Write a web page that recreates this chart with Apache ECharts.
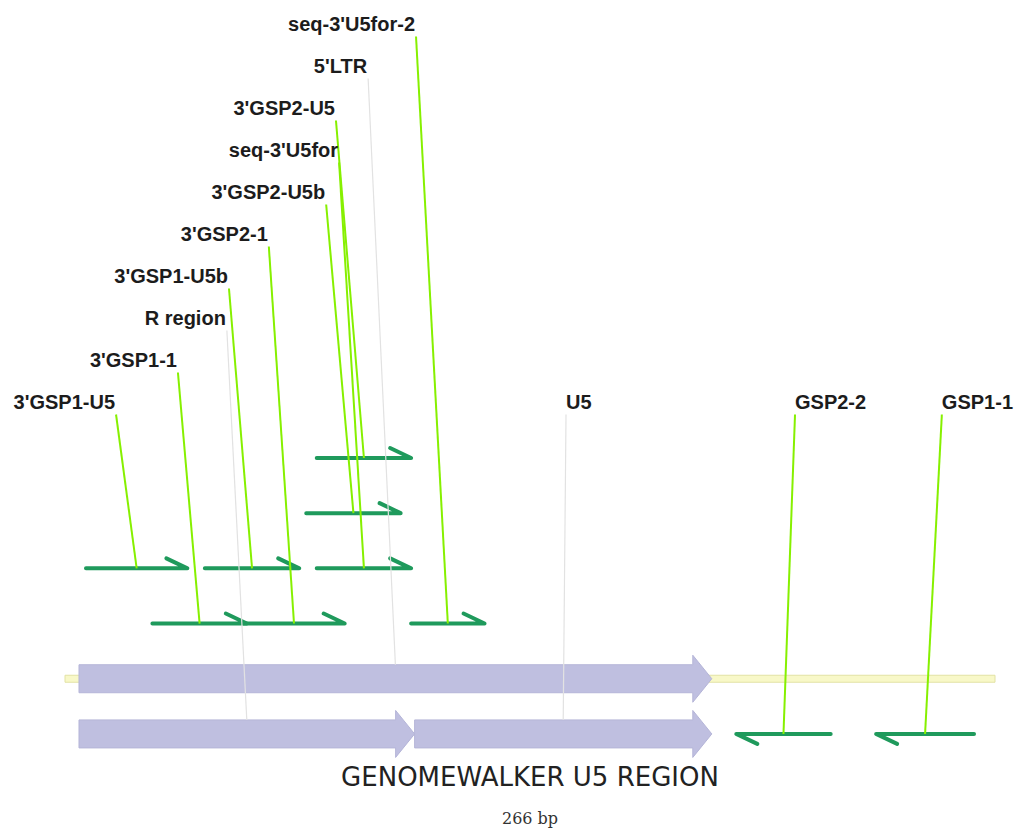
<!DOCTYPE html>
<html><head><meta charset="utf-8">
<script src="https://cdn.jsdelivr.net/npm/echarts@6/dist/echarts.min.js"></script>
<style>html,body{margin:0;padding:0;background:#fff}#c{width:1018px;height:830px}</style>
</head><body><div id="c"></div>
<script>
// ---- data (base pairs) ----
const sequenceLength = 266;
const mapTitle = 'GENOMEWALKER U5 REGION';
const mapSubtitle = '266 bp';

const featureNames = ["5'LTR", "R region", "U5"];
const featureStarts = [4, 4, 100];
const featureEnds = [185, 100, 185];
const featureLanes = [4, 5, 5];
const featureLabelLevels = [1, 7, 9];
const featureLabelAnchors = [86.7, 46.3, 143.3];
const featureLabelSides = ['left', 'left', 'right'];

const primerNames = ["3'GSP1-U5", "3'GSP1-U5b", "seq-3'U5for", "3'GSP2-U5", "3'GSP2-U5b", "3'GSP1-1", "3'GSP2-1", "seq-3'U5for-2", "GSP2-2", "GSP1-1"];
const primerStarts = [6, 40, 72, 72, 69, 25, 51, 99, 192, 232];
const primerEnds = [35, 67, 99, 99, 96, 52, 80, 120, 219, 260];
const primerStrands = [1, 1, 1, 1, 1, 1, 1, 1, -1, -1];
const primerLanes = [2, 2, 2, 0, 1, 3, 3, 3, 5, 5];
const primerLabelLevels = [9, 6, 3, 2, 4, 8, 5, 0, 9, 9];
const primerLabelAnchors = [14.6, 46.9, 78.4, 77.5, 74.7, 32.3, 58.3, 100.4, 208.8, 250.8];
const primerLabelSides = ['left', 'left', 'left', 'left', 'left', 'left', 'left', 'left', 'right', 'right'];

// ---- layout ----
const LANE_TOP = 10.345, LANE_STEP = 1.314;
const laneY = l => LANE_TOP + l * LANE_STEP;
const GREEN = '#1f9a5c', LEADER = '#86f000', GREY_LEADER = '#e2e2e2';
const FEAT = '#bfbfe0', FEAT_EDGE = '#b5b5d8';
const LABEL_FONT = 'bold 20px "Liberation Sans", Arial, sans-serif';

const chart = echarts.init(document.getElementById('c'), null, {renderer: 'svg'});

const featureData = featureNames.map((n, i) => [featureStarts[i], featureEnds[i], laneY(featureLanes[i])]);
const primerData = primerNames.map((n, i) => [primerStarts[i], primerEnds[i], laneY(primerLanes[i]), primerStrands[i]]);

// leaders: anchor x, level, target x, target y, kind(0 primer,1 feature)
const leaderData = [];
const labelData = [];
const labelText = [];
featureNames.forEach((n, i) => {
  leaderData.push([featureLabelAnchors[i], featureLabelLevels[i], (featureStarts[i] + featureEnds[i]) / 2, laneY(featureLanes[i]), 1]);
  labelData.push([featureLabelAnchors[i], featureLabelLevels[i], featureLabelSides[i] === 'left' ? 0 : 1]);
  labelText.push(n);
});
primerNames.forEach((n, i) => {
  leaderData.push([primerLabelAnchors[i], primerLabelLevels[i], (primerStarts[i] + primerEnds[i]) / 2, laneY(primerLanes[i]), 0]);
  labelData.push([primerLabelAnchors[i], primerLabelLevels[i], primerLabelSides[i] === 'left' ? 0 : 1]);
  labelText.push(n);
});

const option = {
  animation: false,
  backgroundColor: '#fff',
  grid: {left: 65, width: 930, top: 2.5, height: 756},
  xAxis: {type: 'value', min: 0, max: sequenceLength, show: false},
  yAxis: {type: 'value', min: -0.5, max: 17.5, inverse: true, show: false},
  graphic: [
    {type: 'text', x: 530, y: 777, z: 10,
     style: {text: mapTitle, font: '26px "DejaVu Sans", Verdana, sans-serif', fill: '#222',
             align: 'center', verticalAlign: 'middle', textAlign: 'center', textVerticalAlign: 'middle'}},
    {type: 'text', x: 530, y: 818, z: 10,
     style: {text: mapSubtitle, font: '16px "DejaVu Serif", Georgia, serif', fill: '#333',
             align: 'center', verticalAlign: 'middle', textAlign: 'center', textVerticalAlign: 'middle'}}
  ],
  series: [
    { // backbone
      type: 'custom', z: 1,
      data: [[0, sequenceLength, laneY(4)]],
      renderItem: (p, api) => {
        const a = api.coord([api.value(0), api.value(2)]);
        const b = api.coord([api.value(1), api.value(2)]);
        return {type: 'rect', shape: {x: a[0], y: a[1] - 3.5, width: b[0] - a[0], height: 7},
                style: {fill: '#f8f8c8', stroke: '#e2e2a4', lineWidth: 1}};
      }
    },
    { // features
      type: 'custom', z: 2,
      data: featureData,
      renderItem: (p, api) => {
        const a = api.coord([api.value(0), api.value(2)]);
        const b = api.coord([api.value(1), api.value(2)]);
        const y = a[1], x0 = a[0], x1 = b[0], xh = x1 - 19;
        return {type: 'polygon',
          shape: {points: [[x0, y - 14], [xh, y - 14], [xh, y - 23.5], [x1, y], [xh, y + 23.5], [xh, y + 14], [x0, y + 14]]},
          style: {fill: FEAT, stroke: FEAT_EDGE, lineWidth: 1}};
      }
    },
    { // primers
      type: 'custom', z: 3,
      data: primerData,
      renderItem: (p, api) => {
        const a = api.coord([api.value(0), api.value(2)]);
        const b = api.coord([api.value(1), api.value(2)]);
        const y = a[1];
        const pts = api.value(3) > 0
          ? [[a[0], y], [b[0], y], [b[0] - 21, y - 10]]
          : [[b[0], y], [a[0], y], [a[0] + 21, y + 10]];
        return {type: 'polyline', shape: {points: pts},
                style: {stroke: GREEN, lineWidth: 4, fill: null, lineCap: 'round', lineJoin: 'round'}};
      }
    },
    { // leader lines
      type: 'custom', z: 4,
      data: leaderData,
      renderItem: (p, api) => {
        const s = api.coord([api.value(0), api.value(1)]);
        const t = api.coord([api.value(2), api.value(3)]);
        const isFeature = api.value(4) === 1;
        return {type: 'line',
          shape: {x1: s[0], y1: s[1] + 13, x2: t[0], y2: isFeature ? t[1] - 14 : t[1]},
          style: {stroke: isFeature ? GREY_LEADER : LEADER, lineWidth: isFeature ? 1.2 : 2}};
      }
    },
    { // labels
      type: 'custom', z: 5,
      data: labelData,
      renderItem: (p, api) => {
        const s = api.coord([api.value(0), api.value(1)]);
        const left = api.value(2) === 0;
        return {type: 'text', x: left ? s[0] - 1 : s[0], y: s[1],
          style: {text: labelText[p.dataIndex], font: LABEL_FONT, fill: '#1c1c1c',
                  align: left ? 'right' : 'left', verticalAlign: 'middle',
                  textAlign: left ? 'right' : 'left', textVerticalAlign: 'middle'}};
      }
    }
  ]
};
chart.setOption(option);
</script>
</body></html>
